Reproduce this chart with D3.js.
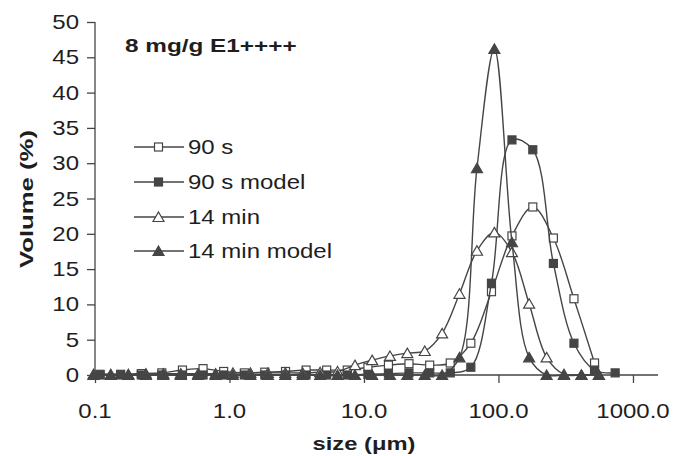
<!DOCTYPE html>
<html><head><meta charset="utf-8">
<script src="https://cdn.jsdelivr.net/npm/d3@7"></script>
<style>
body{margin:0;background:#fff}
text{font-family:"Liberation Sans",Arial,sans-serif;fill:#1e1e1e}
</style>
</head><body><svg id="c" width="674" height="456"></svg>
<script>
// ---- data ----
const sizesSquare = [0.109,0.155,0.221,0.314,0.447,0.636,0.905,1.29,1.83,2.61,3.71,5.28,7.51,10.7,15.2,21.6,30.8,43.8,62.3,88.7,126,180,256,364,518,737];
const sizesTriangle = [0.0975,0.131,0.177,0.239,0.322,0.434,0.585,0.788,1.06,1.43,1.93,2.60,3.50,4.72,6.36,8.57,11.5,15.6,21.0,28.3,38.1,51.3,69.2,93.2,126,169,228,307,414,558];
const vol90s = [0.1,0.1,0.2,0.3,0.7,0.9,0.5,0.3,0.4,0.5,0.7,0.7,0.7,1.1,1.4,1.6,1.4,1.7,4.5,11.8,19.7,23.8,19.4,10.8,1.7];
const vol90sModel = [0,0,0,0,0,0,0,0,0,0,0,0,0,0.1,0.2,0.3,0.3,0.3,1.1,13.0,33.3,31.9,15.8,4.5,0.7,0.3];
const vol14min = [0.1,0.1,0.1,0.2,0.2,0.2,0.2,0.2,0.3,0.3,0.3,0.3,0.3,0.4,0.5,1.4,2.1,2.7,3.1,3.4,5.9,11.5,17.6,20.2,17.4,10.1,2.5,0.1,0,0];
const vol14minModel = [0,0,0,0,0,0,0,0,0,0,0,0,0,0,0,0,0,0,0,0,0,2.5,29.3,46.2,18.8,2.5,0,0,0,0];
const seriesNames = ["90 s","90 s model","14 min","14 min model"];
const xTickValues = [0.1,1,10,100,1000];
const xTickLabels = ["0.1","1.0","10.0","100.0","1000.0"];
const yTickValues = [0,5,10,15,20,25,30,35,40,45,50];
const chartTitle = "8 mg/g E1++++";
const xTitle = "size (\u03bcm)";
const yTitle = "Volume (%)";

// ---- layout ----
const svg = d3.select("#c");
const ink = "#454545";
const SX = 1.2; // horizontal text stretch of the original
const x = d3.scaleLog().domain([0.1, 1535]).range([95, 658]);
const y = d3.scaleLinear().domain([0, 50]).range([375, 22]);

function stretchedText(g, tx, ty, str, anchor, size, weight, sx){
  return g.append("text")
    .attr("transform", `translate(${tx},${ty}) scale(${sx},1)`)
    .attr("text-anchor", anchor)
    .attr("font-size", size)
    .attr("font-weight", weight)
    .text(str);
}

// axes
const yAxis = d3.axisLeft(y).tickValues(yTickValues).tickSize(8).tickFormat("");
const gy = svg.append("g").attr("transform","translate(95,0)").call(yAxis);
gy.select(".domain").attr("stroke", ink).attr("stroke-width",1.3).attr("d","M0,22V375");
gy.selectAll(".tick line").attr("stroke", ink).attr("stroke-width",1.3);

const xAxis = d3.axisBottom(x).tickValues(xTickValues).tickSize(8).tickFormat("");
const gx = svg.append("g").attr("transform","translate(0,375)").call(xAxis);
gx.select(".domain").attr("stroke", ink).attr("stroke-width",1.3).attr("d","M95,0H658");
gx.selectAll(".tick line").attr("stroke", ink).attr("stroke-width",1.3);

const tl = svg.append("g");
yTickValues.forEach(v => stretchedText(tl, 79, y(v)+7, String(v), "end", 20, "normal", SX));
xTickValues.forEach((v,i) => stretchedText(tl, x(v), 418, xTickLabels[i], "middle", 20, "normal", SX));

stretchedText(svg, 125, 52, chartTitle, "start", 19, "bold", 1.28);
stretchedText(svg, 364, 450, xTitle, "middle", 19, "bold", 1.25);
svg.append("text")
  .attr("transform","translate(33,199) rotate(-90)")
  .attr("text-anchor","middle").attr("font-size",19).attr("font-weight","bold")
  .attr("textLength",138).attr("lengthAdjust","spacingAndGlyphs")
  .text(yTitle);

// ---- series ----
const series = [
  {name: seriesNames[0], xs: sizesSquare, ys: vol90s, shape: "square", fill: "#fff"},
  {name: seriesNames[1], xs: sizesSquare, ys: vol90sModel, shape: "square", fill: ink},
  {name: seriesNames[2], xs: sizesTriangle, ys: vol14min, shape: "triangle", fill: "#fff"},
  {name: seriesNames[3], xs: sizesTriangle, ys: vol14minModel, shape: "triangle", fill: ink}
];
const line = d3.line().x(d=>x(d[0])).y(d=>y(d[1])).curve(d3.curveCatmullRom.alpha(0.5));

function marker(g, shape, cx, cy, fill){
  if(shape === "square"){
    g.append("rect").attr("x",cx-4).attr("y",cy-4).attr("width",8).attr("height",8)
      .attr("fill",fill).attr("stroke",ink).attr("stroke-width",1.2);
  } else {
    g.append("path").attr("d",`M${cx},${cy-5}L${cx+5.5},${cy+4.5}L${cx-5.5},${cy+4.5}Z`)
      .attr("fill",fill).attr("stroke",ink).attr("stroke-width",1.2);
  }
}

series.forEach(s => {
  const pts = s.ys.map((v,i)=>[s.xs[i], v]);
  const g = svg.append("g");
  g.append("path").attr("d", line(pts)).attr("fill","none").attr("stroke",ink).attr("stroke-width",1.4);
  pts.forEach(p => marker(g, s.shape, x(p[0]), y(p[1]), s.fill));
});

// ---- legend ----
const legRows = [147,182,217,251];
const lg = svg.append("g");
series.forEach((s,i) => {
  const ly = legRows[i];
  lg.append("line").attr("x1",134).attr("x2",184).attr("y1",ly).attr("y2",ly).attr("stroke",ink).attr("stroke-width",1.3);
  marker(lg, s.shape, 158.5, ly, s.fill);
  stretchedText(lg, 188, ly+7, s.name, "start", 20, "normal", SX);
});
</script>
</body></html>
